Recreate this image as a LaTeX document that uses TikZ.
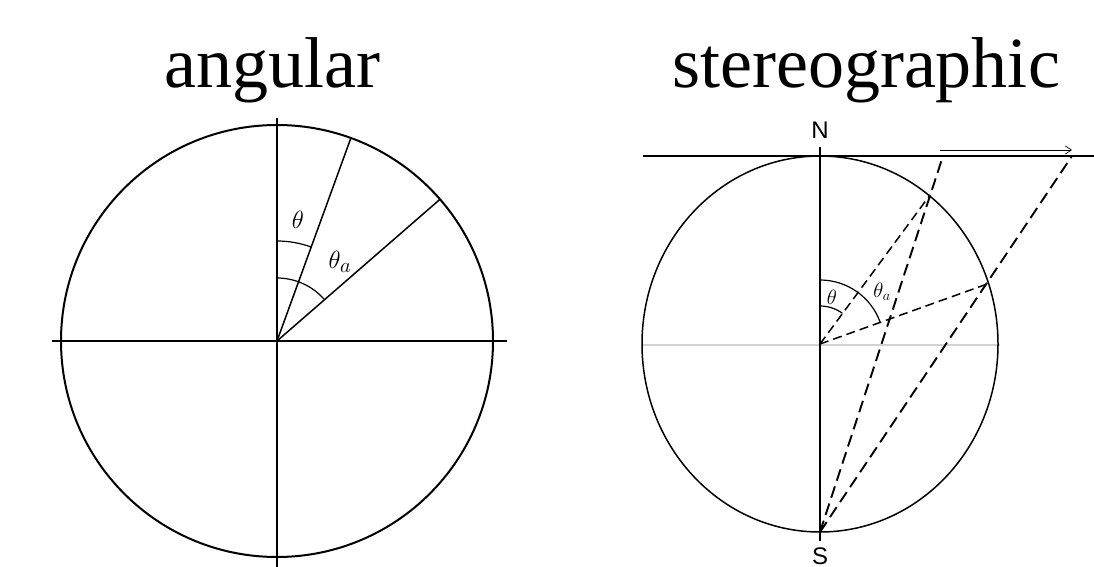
\documentclass[tikz,border=0pt]{standalone}
\usepackage{fontspec}
\setmainfont{Liberation Serif}
\newfontfamily\labsans{Liberation Sans}
\usetikzlibrary{calc,arrows.meta}
\begin{document}
\begin{tikzpicture}[x=1pt,y=-1pt,
  main/.style={line width=2pt},
  thinline/.style={line width=1.5pt},
  arcline/.style={line width=1.2pt},
  longdash/.style={line width=1.9pt,dash pattern=on 12pt off 6pt},
  shortdash/.style={line width=1.5pt,dash pattern=on 9pt off 5pt},
  title/.style={font=\fontsize{72}{80}\selectfont,anchor=base,inner sep=0pt},
  pole/.style={font=\labsans\fontsize{24}{26}\selectfont,inner sep=0pt}]
\useasboundingbox (0,0) rectangle (1094,567);
% ---------- left: angular ----------
\node[title] (t1) at (272,88) {angular};
\coordinate (O) at (277,341);
\coordinate (Lw) at (52,341);
\coordinate (Le) at (507,341);
\coordinate (Lt) at (277,118);
\coordinate (Lb) at (277,567);
\draw[main] (O) circle (216pt);
\draw[main] (Lw) -- (Le);
\draw[main] (Lt) -- (Lb);
\coordinate (A1) at ($(O)+(70:216pt)$);
\coordinate (A2) at ($(O)+(41:216pt)$);
\draw[thinline] (O) -- (A1);
\draw[thinline] (O) -- (A2);
\draw[arcline] ($(O)+(90:100pt)$) arc[start angle=90,end angle=70,radius=100pt];
\draw[arcline] ($(O)+(90:63pt)$) arc[start angle=90,end angle=41,radius=63pt];
\node[font=\fontsize{28}{30}\selectfont] (lt) at (298,220) {$\theta$};
\node[font=\fontsize{28}{30}\selectfont] (lta) at (340,262) {$\theta_a$};
% ---------- right: stereographic ----------
\node[title] (t2) at (866,88) {stereographic};
\coordinate (C) at (820,344);
\coordinate (N) at (820,156);
\coordinate (S) at (820,532);
\coordinate (Rw) at (643,345);
\coordinate (Re) at (1000,345);
\coordinate (Tw) at (643,156);
\coordinate (Te) at (1094,156);
\coordinate (Vt) at (820,147);
\coordinate (Vb) at (820,541);
\draw[gray!35,line width=2pt] (Rw) -- (Re);
\draw[thinline] (C) ellipse [x radius=178pt,y radius=188pt];
\draw[main] (Tw) -- (Te);
\draw[thinline] (Vt) -- (Vb);
\node[pole] (nN) at (820,130) {N};
\node[pole] (nS) at (820,556) {S};
\coordinate (P1) at (930,195);
\coordinate (P2) at (990,283);
\coordinate (Q1) at (943,156);
\coordinate (Q2) at (1072,156);
\draw[longdash] (S) -- (Q1);
\draw[longdash] (S) -- (Q2);
\draw[shortdash] (C) -- (P1);
\draw[shortdash] (C) -- (P2);
\coordinate (Ar1) at (940,150);
\coordinate (Ar2) at (1072,150);
\draw[line width=0.7pt,-{Straight Barb[length=6pt,width=8pt]}] (Ar1) -- (Ar2);
\draw[arcline] ($(C)+(90:38pt)$) arc[start angle=90,end angle=54,radius=38pt];
\draw[arcline] ($(C)+(90:64pt)$) arc[start angle=90,end angle=20,radius=64pt];
\node[font=\fontsize{22}{24}\selectfont] (rt) at (832,297) {$\theta$};
\node[font=\fontsize{22}{24}\selectfont] (rta) at (882,292) {$\theta_a$};
\end{tikzpicture}
\end{document}
